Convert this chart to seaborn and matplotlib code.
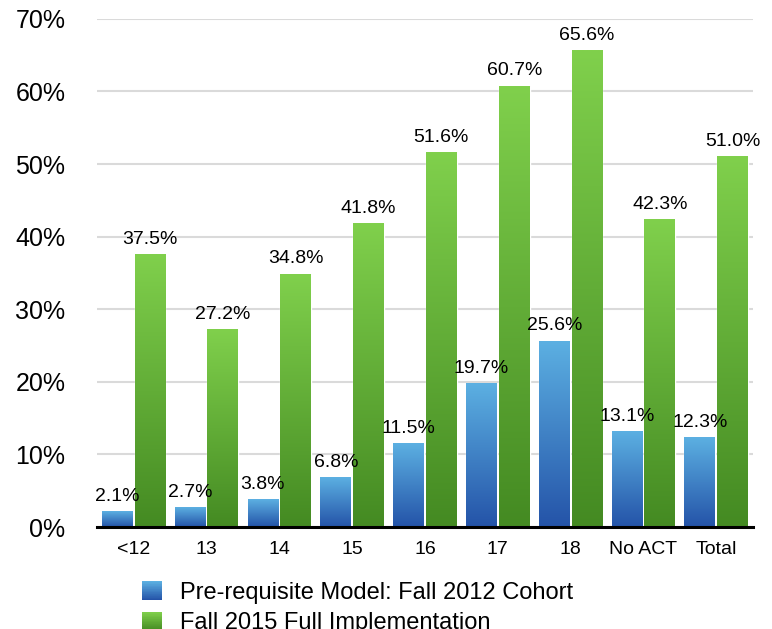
import numpy as np
import pandas as pd
import matplotlib
matplotlib.use('Agg')
import matplotlib.pyplot as plt
from matplotlib.colors import LinearSegmentedColormap
from matplotlib.patches import Rectangle
from matplotlib.legend_handler import HandlerPatch
import seaborn as sns

# --- datos ---
categorias = ['<12', '13', '14', '15', '16', '17', '18', 'No ACT', 'Total']
modelo_2012 = [2.1, 2.7, 3.8, 6.8, 11.5, 19.7, 25.6, 13.1, 12.3]
impl_2015 = [37.5, 27.2, 34.8, 41.8, 51.6, 60.7, 65.6, 42.3, 51.0]
series = ['Pre-requisite Model: Fall 2012 Cohort', 'Fall 2015 Full Implementation']

df = pd.DataFrame({
    'grupo': categorias * 2,
    'valor': modelo_2012 + impl_2015,
    'serie': [series[0]] * len(categorias) + [series[1]] * len(categorias),
})

sns.set_style('white')
plt.rcParams['font.family'] = ['Liberation Sans', 'DejaVu Sans']
plt.rcParams['text.color'] = 'black'
plt.rcParams['xtick.color'] = 'black'
plt.rcParams['ytick.color'] = 'black'

# degradados (arriba claro, abajo oscuro)
grad_azul = LinearSegmentedColormap.from_list('azul', ['#2453a8', '#5cb0e2'])
grad_verde = LinearSegmentedColormap.from_list('verde', ['#448a22', '#80d04c'])
colores = {series[0]: '#3f86cc', series[1]: '#5fae35'}


# cuadros de la leyenda con degradado
class HandlerDegradado(HandlerPatch):
    def __init__(self, cmap):
        super().__init__()
        self.cmap = cmap

    def create_artists(self, legend, orig_handle, xdescent, ydescent,
                       width, height, fontsize, trans):
        n = 30
        artistas = []
        for i in range(n):
            r = Rectangle((-xdescent, -ydescent + height * i / n), width,
                          height / n + 0.05, color=self.cmap(i / (n - 1)),
                          linewidth=0, transform=trans)
            artistas.append(r)
        return artistas


fig = plt.figure(figsize=(7.72, 6.29), dpi=100)
ax = fig.add_axes([0.126, 0.162, 0.849, 0.808])

sns.barplot(data=df, x='grupo', y='valor', hue='serie', palette=colores,
            width=0.9, gap=0.06, ax=ax, legend=False, zorder=2)

ax.set_ylim(0, 70)
xlim = ax.get_xlim()

# pintar cada barra con su degradado
grad = np.linspace(0, 1, 256).reshape(-1, 1)
for cont, cmap in zip(ax.containers, [grad_azul, grad_verde]):
    for p in cont.patches:
        x0, y0 = p.get_x(), p.get_y()
        w, h = p.get_width(), p.get_height()
        ax.imshow(grad, cmap=cmap, origin='lower', aspect='auto',
                  extent=(x0, x0 + w, y0, y0 + h), zorder=3)
    ax.bar_label(cont, labels=[f'{v:.1f}%' for v in cont.datavalues],
                 padding=5, fontsize=14, color='black', zorder=4)

ax.set_xlim(xlim)
ax.set_ylim(0, 70)

ax.set_yticks(range(0, 71, 10))
ax.set_yticklabels([f'{t}%' for t in range(0, 71, 10)], fontsize=18)
ax.tick_params(axis='y', length=0, pad=23)
ax.tick_params(axis='x', length=0, labelsize=14, pad=10)
ax.set_xlabel('')
ax.set_ylabel('')
ax.yaxis.grid(True, color='#dadada', linewidth=1.5, zorder=0)
ax.set_axisbelow(True)

for s in ['left', 'right', 'top']:
    ax.spines[s].set_visible(False)
ax.spines['bottom'].set_color('black')
ax.spines['bottom'].set_linewidth(2.2)
ax.spines['bottom'].set_zorder(5)

h_azul = Rectangle((0, 0), 1, 1, color='#3d82cb')
h_verde = Rectangle((0, 0), 1, 1, color='#5cab33')
fig.legend([h_azul, h_verde], series, loc='upper left',
           bbox_to_anchor=(0.184, 0.076), frameon=False, fontsize=17,
           handlelength=0.85, handleheight=0.85, handletextpad=0.75,
           labelspacing=0.34, borderaxespad=0, borderpad=0,
           handler_map={h_azul: HandlerDegradado(grad_azul),
                        h_verde: HandlerDegradado(grad_verde)})

plt.savefig('out.png', dpi=100)
plt.close()
